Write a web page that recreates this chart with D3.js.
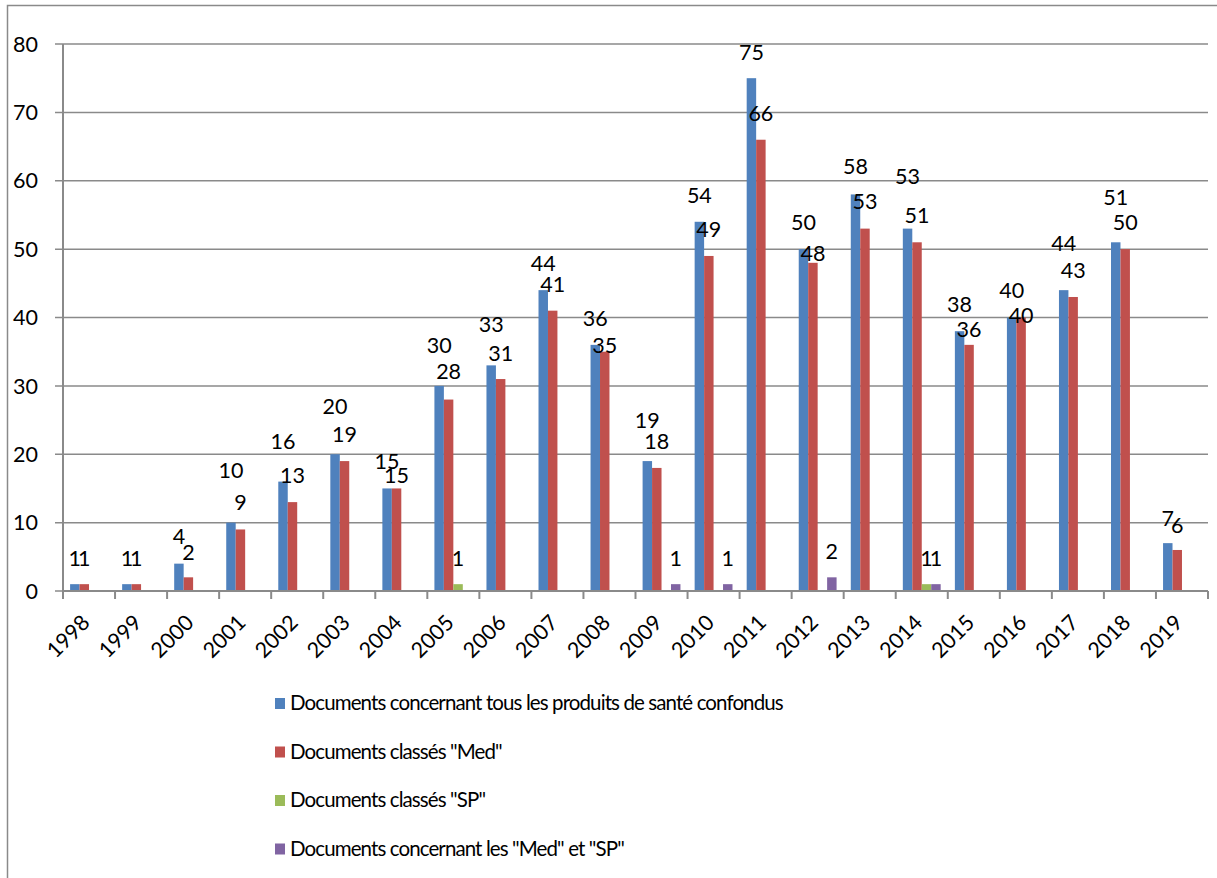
<!DOCTYPE html>
<html>
<head>
<meta charset="utf-8">
<script src="https://cdn.jsdelivr.net/npm/d3@7"></script>
<style>
  body { margin: 0; background: #fff; }
  text { font-family: Lato, "Open Sans", sans-serif; fill: #000; }
</style>
</head>
<body>
<div id="my_dataviz"></div>
<script>
const years = ["1998", "1999", "2000", "2001", "2002", "2003", "2004", "2005", "2006", "2007", "2008",
    "2009", "2010", "2011", "2012", "2013", "2014", "2015", "2016", "2017", "2018", "2019"];

const tousProduits = [1, 1, 4, 10, 16, 20, 15, 30, 33, 44, 36, 19, 54, 75, 50, 58, 53, 38, 40, 44, 51, 7];
const classesMed  = [1, 1, 2, 9, 13, 19, 15, 28, 31, 41, 35, 18, 49, 66, 48, 53, 51, 36, 40, 43, 50, 6];
const classesSP   = [0, 0, 0, 0, 0, 0, 0, 1, 0, 0, 0, 0, 0, 0, 0, 0, 1, 0, 0, 0, 0, 0];
const medEtSP     = [0, 0, 0, 0, 0, 0, 0, 0, 0, 0, 0, 1, 1, 0, 2, 0, 1, 0, 0, 0, 0, 0];

const seriesNames = [
    "Documents concernant tous les produits de santé confondus",
    "Documents classés \"Med\"",
    "Documents classés \"SP\"",
    "Documents concernant les \"Med\" et \"SP\""
];
const seriesColors = ["#4F81BD", "#C0504D", "#9BBB59", "#8064A2"];
const yTicks = [0, 10, 20, 30, 40, 50, 60, 70, 80];

// data labels were dragged by hand in the original: lift (px) of each label above its bar
const liftTous = [26, 26, 27, 52, 40, 48, 27, 41, 41, 27, 27, 41, 27, 26, 27, 28, 52, 27, 27, 47, 45, 25];
const liftMed  = [26, 26, 25, 27, 27, 27, 13, 28, 26, 26, 6, 27, 27, 26, 10, 27, 27, 16, 2, 27, 27, 25];
const liftDefault = 26;

const seriesValues = [tousProduits, classesMed, classesSP, medEtSP];
const seriesLifts = [liftTous, liftMed, null, null];

const W = 1217, H = 878;
const margin = {top: 44, left: 63, right: 9, bottom: 287};
const width = W - margin.left - margin.right,
    height = H - margin.top - margin.bottom;

const svg = d3.select("#my_dataviz")
    .append("svg")
    .attr("width", W)
    .attr("height", H);

// chart border (only left and top show)
svg.append("path")
    .attr("d", `M7.5,${H} V5.5 H${W}`)
    .style("fill", "none")
    .style("stroke", "#8a8a8a")
    .style("stroke-width", 1.5);

const g = svg.append("g")
    .attr("transform", `translate(${margin.left}, ${margin.top})`);

const x = d3.scaleBand()
    .domain(years)
    .range([0, width]);

// gap width 150% -> 0.75 bar on each side
const x1 = d3.scaleBand()
    .domain(d3.range(seriesNames.length))
    .range([0, x.bandwidth()])
    .paddingInner(0)
    .paddingOuter(0.75);

const y = d3.scaleLinear()
    .domain([0, 80])
    .range([height, 0]);

// gridlines
g.append("g")
    .selectAll("line")
    .data(yTicks)
    .join("line")
    .attr("x1", -8)
    .attr("x2", width)
    .attr("y1", d => y(d))
    .attr("y2", d => y(d))
    .style("stroke", "#8a8a8a")
    .style("stroke-width", 1.5);

g.append("g")
    .selectAll("text")
    .data(yTicks)
    .join("text")
    .attr("x", -25)
    .attr("y", d => y(d))
    .attr("dy", "0.36em")
    .attr("text-anchor", "end")
    .style("font-size", "21.5px")
    .text(d => d);

// bars
const bars = [];
seriesValues.forEach((vals, s) => {
    vals.forEach((v, i) => {
        if (v > 0) {
            const lift = seriesLifts[s] ? seriesLifts[s][i] : liftDefault;
            bars.push({year: years[i], s: s, value: v, lift: lift});
        }
    });
});

g.selectAll("rect.bar")
    .data(bars)
    .join("rect")
    .attr("class", "bar")
    .attr("x", d => x(d.year) + x1(d.s))
    .attr("y", d => y(d.value))
    .attr("width", x1.bandwidth())
    .attr("height", d => height - y(d.value))
    .style("fill", d => seriesColors[d.s]);

// x axis + y axis lines
g.append("line")
    .attr("x1", 0).attr("x2", width)
    .attr("y1", height).attr("y2", height)
    .style("stroke", "#8a8a8a")
    .style("stroke-width", 2);

g.append("line")
    .attr("x1", 0).attr("x2", 0)
    .attr("y1", 0).attr("y2", height)
    .style("stroke", "#8a8a8a")
    .style("stroke-width", 2);

g.append("g")
    .selectAll("line")
    .data(d3.range(years.length + 1))
    .join("line")
    .attr("x1", i => i * x.step())
    .attr("x2", i => i * x.step())
    .attr("y1", height)
    .attr("y2", height + 8)
    .style("stroke", "#8a8a8a")
    .style("stroke-width", 2);

// data labels
g.selectAll("text.lbl")
    .data(bars)
    .join("text")
    .attr("class", "lbl")
    .attr("x", d => x(d.year) + x1(d.s) + x1.bandwidth() / 2)
    .attr("y", d => y(d.value) - d.lift)
    .attr("dy", "0.36em")
    .attr("text-anchor", "middle")
    .style("font-size", "21.5px")
    .text(d => d.value);

g.append("g")
    .selectAll("text")
    .data(years)
    .join("text")
    .attr("transform", d => `translate(${x(d) + x.bandwidth() / 2 + 2}, ${height + 33}) rotate(-45)`)
    .attr("text-anchor", "end")
    .style("font-size", "21.5px")
    .text(d => d);

// legend
const legend = svg.append("g")
    .attr("transform", "translate(275, 703)");

const item = legend.selectAll("g")
    .data(seriesNames)
    .join("g")
    .attr("transform", (d, i) => `translate(0, ${i * 48.5})`);

item.append("rect")
    .attr("x", 0)
    .attr("y", -5)
    .attr("width", 10)
    .attr("height", 11)
    .style("fill", (d, i) => seriesColors[i]);

item.append("text")
    .attr("x", 15)
    .attr("dy", "0.36em")
    .style("font-size", "20.5px")
    .style("letter-spacing", "-0.9px")
    .text(d => d);
</script>
</body>
</html>
